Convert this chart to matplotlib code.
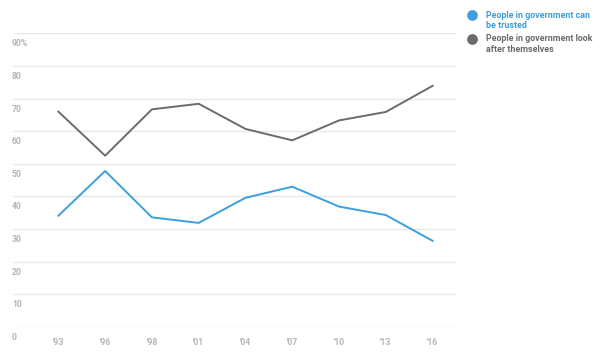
import numpy as np
import matplotlib.pyplot as plt

years = ["'93", "'96", "'98", "'01", "'04", "'07", "'10", "'13", "'16"]
trusted = [34.1, 47.8, 33.6, 31.9, 39.6, 43.0, 36.9, 34.3, 26.4]
look_after = [66.0, 52.5, 66.7, 68.4, 60.7, 57.2, 63.3, 65.9, 73.9]
y_ticks = [0, 10, 20, 30, 40, 50, 60, 70, 80, 90]
y_labels = ["0", "10", "20", "30", "40", "50", "60", "70", "80", "90%"]
series_names = ["People in government can\nbe trusted",
                "People in government look\nafter themselves"]

blue = "#3d9fdb"
grey = "#6b6b6b"
tick_col = "#b5b5b5"

plt.rcParams['font.family'] = ['Roboto', 'DejaVu Sans']

fig = plt.figure(figsize=(6, 3.57), dpi=100)
W, H = 600, 357
ax = fig.add_axes([13 / W, 1 - 327 / H, (456 - 13) / W, (327 - 33.3) / H])

x = np.arange(len(years))
ax.plot(x, trusted, color=blue, linewidth=1.4)
ax.plot(x, look_after, color=grey, linewidth=1.4)

ax.set_xlim(-0.97, 8.5)
ax.set_ylim(0, 90)
for v in y_ticks:
    ax.axhline(v, color="#e8e8e8", linewidth=1, zorder=0)

# y labels sit just under their gridlines
for v, lab in zip(y_ticks, y_labels):
    ax.annotate(lab, xy=(0, v), xycoords=ax.get_yaxis_transform(),
                xytext=(-1, -6), textcoords='offset pixels',
                ha='left', va='top', fontsize=6.2, color=tick_col,
                fontweight='bold')

ax.set_yticks([])
ax.set_xticks(x)
ax.set_xticklabels(years)
ax.tick_params(axis='x', length=0, pad=8, labelsize=6.2, labelcolor=tick_col)
for t in ax.get_xticklabels():
    t.set_fontweight('bold')
for s in ax.spines.values():
    s.set_visible(False)

# legend drawn by hand so the dot lines up with the first text line
for i, (name, c) in enumerate(zip(series_names, [blue, grey])):
    y0 = 15 + i * 23.7
    fig.lines.append(plt.Line2D([472 / W], [1 - y0 / H], marker='o',
                                markersize=6.7, color=c, linestyle='none',
                                transform=fig.transFigure))
    fig.text(486 / W, 1 - (y0 - 4.5) / H, name, ha='left', va='top',
             fontsize=6.4, fontweight='bold', color=c, linespacing=1.25)

fig.savefig("out.png", dpi=100)
